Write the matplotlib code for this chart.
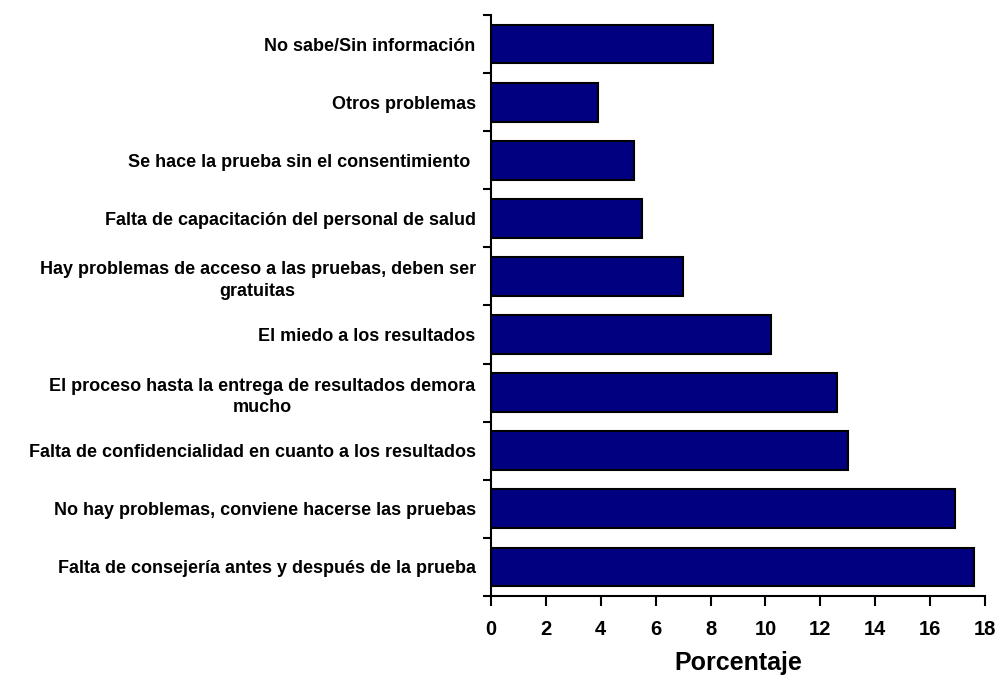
import numpy as np
import matplotlib.pyplot as plt

plt.rcParams['font.family'] = ['Liberation Sans', 'DejaVu Sans']

categorias = [
    'No sabe/Sin información',
    'Otros problemas',
    'Se hace la prueba sin el consentimiento ',
    'Falta de capacitación del personal de salud',
    'Hay problemas de acceso a las pruebas, deben ser\ngratuitas',
    'El miedo a los resultados',
    'El proceso hasta la entrega de resultados demora\nmucho',
    'Falta de confidencialidad en cuanto a los resultados',
    'No hay problemas, conviene hacerse las pruebas',
    'Falta de consejería antes y después de la prueba',
]
porcentaje = [8.1, 3.9, 5.2, 5.5, 7.0, 10.2, 12.6, 13.0, 16.9, 17.6]
xticks = [0, 2, 4, 6, 8, 10, 12, 14, 16, 18]

fig = plt.figure(figsize=(9.98, 6.8), dpi=100)
ax = fig.add_axes([0.492, 0.1235, 0.495, 0.8545])

pos = np.arange(len(categorias))
ax.barh(pos, porcentaje, height=0.67, color='#000080', edgecolor='black', linewidth=1.5)

ax.set_ylim(len(categorias) - 0.5, -0.5)
ax.set_xlim(0, 18)

# labels at bar centres, tick marks at the category boundaries
ax.set_yticks(pos)
ax.set_yticklabels(categorias, fontsize=13, fontweight='bold',
                   multialignment='center', linespacing=1.35)
ax.tick_params(axis='y', which='major', length=0, pad=11)
ax.set_yticks(np.arange(len(categorias) + 1) - 0.5, minor=True)
ax.tick_params(axis='y', which='minor', length=6, width=1.5, direction='out')

ax.set_xticks(xticks)
ax.set_xticklabels([str(t) for t in xticks], fontsize=14.5, fontweight='bold')
ax.tick_params(axis='x', length=7, width=1.5, direction='out', pad=10)

ax.set_xlabel('Porcentaje', fontsize=18, fontweight='bold', labelpad=9)

for s in ['top', 'right']:
    ax.spines[s].set_visible(False)
for s in ['left', 'bottom']:
    ax.spines[s].set_linewidth(1.5)

fig.savefig('out.png', dpi=100)
